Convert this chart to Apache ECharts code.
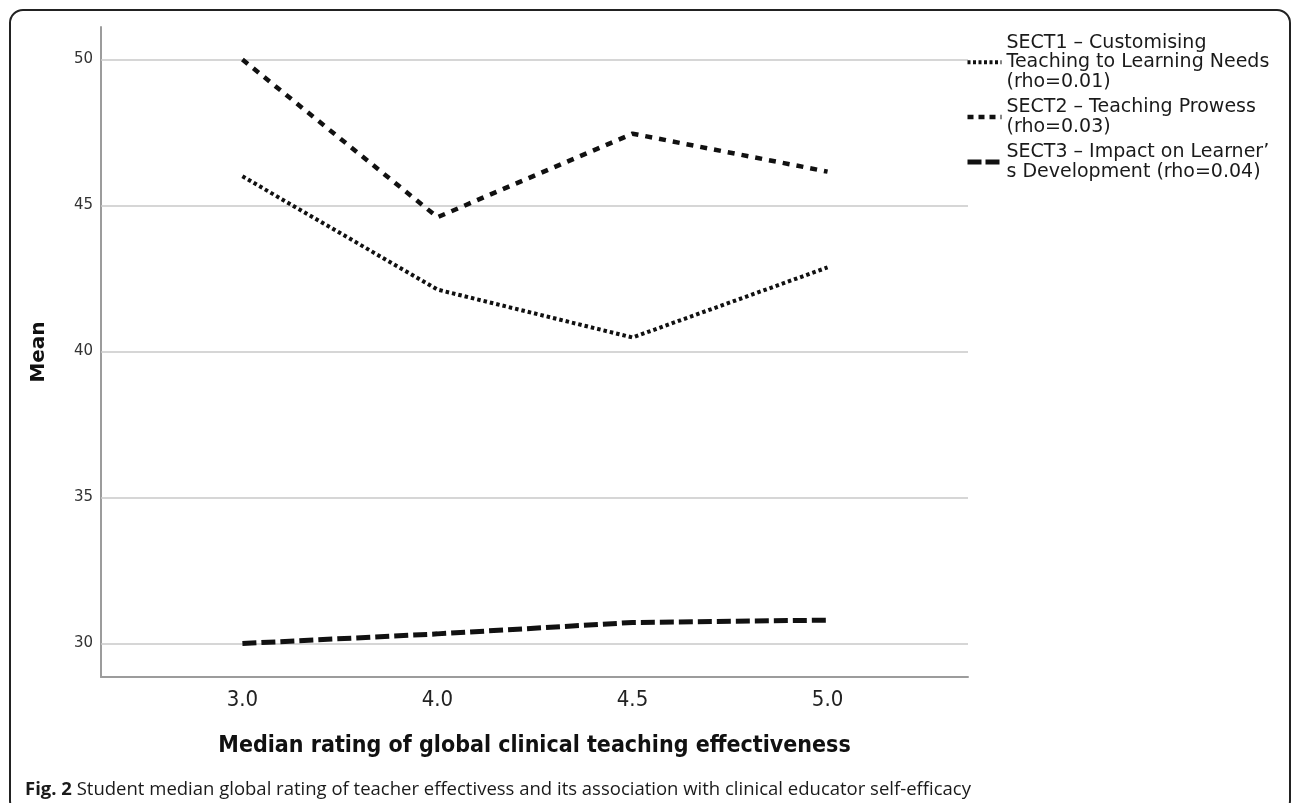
<!DOCTYPE html>
<html>
<head>
<meta charset="utf-8">
<script src="https://cdn.jsdelivr.net/npm/echarts@6/dist/echarts.min.js"></script>
<style>
html,body{margin:0;padding:0;background:#fff;}
#frame{position:absolute;left:9px;top:9px;width:1282px;height:806px;border:2px solid #222;border-radius:14px;box-sizing:border-box;}
#chart{position:absolute;left:0;top:0;width:1292px;height:803px;}
</style>
</head>
<body>
<div id="frame"></div>
<div id="chart"></div>
<script>
const categories = ['3.0', '4.0', '4.5', '5.0'];
const yTicks = [30, 35, 40, 45, 50];
const sect1 = [46.0, 42.12, 40.48, 42.88];
const sect2 = [50.0, 44.6, 47.46, 46.16];
const sect3 = [30.0, 30.33, 30.72, 30.8];
const seriesNames = [
  'SECT1 \u2013 Customising\nTeaching to Learning Needs\n(rho=0.01)',
  'SECT2 \u2013 Teaching Prowess\n(rho=0.03)',
  'SECT3 \u2013 Impact on Learner\u2019\ns Development (rho=0.04)'
];
const xTitle = 'Median rating of global clinical teaching effectiveness';
const yTitle = 'Mean';
const caption = 'Student median global rating of teacher effectivess and its association with clinical educator self-efficacy';

const toPts = arr => arr.map((v, i) => [i, v]);
const styles = [
  {type: [3.5, 3], width: 4},
  {type: [7, 7], width: 4.5},
  {type: [14, 5], width: 5}
];
const legendStyles = [
  {type: [3, 2.5], width: 4},
  {type: [6, 5], width: 4.5},
  {type: [14, 4], width: 5}
];
const data = [sect1, sect2, sect3];

const series = data.map((d, i) => ({
  name: seriesNames[i],
  type: 'line',
  data: toPts(d),
  symbol: 'none',
  lineStyle: {color: '#111', width: styles[i].width, type: styles[i].type, cap: 'butt'},
  itemStyle: {color: '#111'},
  z: 3,
  animation: false
}));
series[0].markLine = {
  silent: true,
  symbol: 'none',
  label: {show: false},
  lineStyle: {color: '#c9c9c9', width: 1.5, type: 'solid'},
  data: yTicks.map(v => ({yAxis: v})),
  z: 1,
  animation: false
};

const chart = echarts.init(document.getElementById('chart'));
chart.setOption({
  backgroundColor: 'transparent',
  animation: false,
  grid: {left: 101, top: 27, right: 324, bottom: 126, containLabel: false},
  title: {
    text: '{b|Fig. 2} ' + caption,
    left: 20, top: 775,
    textStyle: {
      fontFamily: 'Open Sans', fontSize: 18.5, fontWeight: 'normal', color: '#1a1a1a',
      rich: {b: {fontFamily: 'Open Sans', fontSize: 18.5, fontWeight: 'bold', color: '#1a1a1a'}}
    }
  },
  legend: {
    orient: 'vertical',
    left: 965, top: 33,
    padding: 0,
    itemWidth: 34, itemHeight: 14, itemGap: 6,
    selectedMode: false,
    itemStyle: {opacity: 0, color: 'rgba(0,0,0,0)', borderWidth: 0},
    textStyle: {fontFamily: 'DejaVu Sans', fontSize: 19, lineHeight: 19.5, color: '#1a1a1a'},
    data: seriesNames.map((n, i) => ({
      name: n,
      itemStyle: {opacity: 0, color: 'rgba(0,0,0,0)', borderWidth: 0},
      lineStyle: {color: '#111', width: legendStyles[i].width, type: legendStyles[i].type, cap: 'butt'}
    }))
  },
  xAxis: {
    type: 'value',
    min: -0.725, max: 3.72,
    name: xTitle,
    nameLocation: 'middle',
    nameGap: 58,
    nameTextStyle: {fontFamily: 'Liberation Sans Narrow, DejaVu Sans Condensed, sans-serif', fontSize: 23, fontWeight: 'bold', color: '#111'},
    axisLine: {show: true, onZero: false, lineStyle: {color: '#9c9c9c', width: 2}},
    axisTick: {show: false},
    splitLine: {show: false},
    axisLabel: {
      customValues: categories.map((c, i) => i),
      formatter: v => categories[Math.round(v)],
      margin: 12,
      fontFamily: 'Liberation Sans Narrow, DejaVu Sans Condensed, sans-serif',
      fontSize: 22, color: '#222'
    }
  },
  yAxis: {
    type: 'value',
    min: 28.853, max: 51.113,
    name: yTitle,
    nameLocation: 'middle',
    nameGap: 52,
    nameRotate: 90,
    nameTextStyle: {fontFamily: 'DejaVu Sans', fontSize: 20, fontWeight: 'bold', color: '#111'},
    axisLine: {show: true, onZero: false, lineStyle: {color: '#9c9c9c', width: 2}},
    axisTick: {show: false},
    splitLine: {show: false},
    axisLabel: {
      customValues: yTicks,
      margin: 8,
      fontFamily: 'DejaVu Sans', fontSize: 15, color: '#333'
    }
  },
  series: series
});
</script>
</body>
</html>
